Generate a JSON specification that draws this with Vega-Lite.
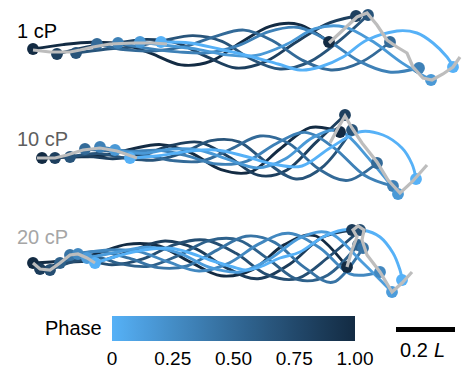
{
  "$schema": "https://vega.github.io/schema/vega-lite/v6.json",
  "width": 462,
  "height": 370,
  "padding": 0,
  "autosize": {"type": "none"},
  "config": {"view": {"stroke": null}, "font": "Liberation Sans"},
  "datasets": {
    "curves": [
      {"c":"a6","ph":1,"x":33,"y":49},{"c":"a6","ph":1,"x":63,"y":44.6},{"c":"a6","ph":1,"x":92,"y":42.2},{"c":"a6","ph":1,"x":122,"y":44.1},{"c":"a6","ph":1,"x":151,"y":53.3},{"c":"a6","ph":1,"x":181,"y":64.9},{"c":"a6","ph":1,"x":211,"y":61.2},{"c":"a6","ph":1,"x":240,"y":43},{"c":"a6","ph":1,"x":270,"y":26.4},{"c":"a6","ph":1,"x":299,"y":24.6},{"c":"a6","ph":1,"x":329,"y":42},
      {"c":"a5","ph":0.8333,"x":57,"y":54},{"c":"a5","ph":0.8333,"x":87,"y":47},{"c":"a5","ph":0.8333,"x":117,"y":42.9},{"c":"a5","ph":0.8333,"x":147,"y":39.4},{"c":"a5","ph":0.8333,"x":177,"y":43},{"c":"a5","ph":0.8333,"x":207,"y":56.9},{"c":"a5","ph":0.8333,"x":236,"y":68},{"c":"a5","ph":0.8333,"x":266,"y":61.4},{"c":"a5","ph":0.8333,"x":296,"y":42.2},{"c":"a5","ph":0.8333,"x":326,"y":24.3},{"c":"a5","ph":0.8333,"x":356,"y":16},
      {"c":"a4","ph":0.6667,"x":76,"y":53},{"c":"a4","ph":0.6667,"x":105,"y":49.3},{"c":"a4","ph":0.6667,"x":134,"y":46.7},{"c":"a4","ph":0.6667,"x":164,"y":40.4},{"c":"a4","ph":0.6667,"x":193,"y":35.6},{"c":"a4","ph":0.6667,"x":222,"y":41.4},{"c":"a4","ph":0.6667,"x":251,"y":59},{"c":"a4","ph":0.6667,"x":280,"y":69},{"c":"a4","ph":0.6667,"x":310,"y":61.6},{"c":"a4","ph":0.6667,"x":339,"y":41.1},{"c":"a4","ph":0.6667,"x":368,"y":15},
      {"c":"a3","ph":0.5,"x":97,"y":44},{"c":"a3","ph":0.5,"x":126,"y":49.9},{"c":"a3","ph":0.5,"x":156,"y":50.7},{"c":"a3","ph":0.5,"x":185,"y":46.4},{"c":"a3","ph":0.5,"x":214,"y":36.9},{"c":"a3","ph":0.5,"x":244,"y":30.1},{"c":"a3","ph":0.5,"x":273,"y":41},{"c":"a3","ph":0.5,"x":302,"y":60},{"c":"a3","ph":0.5,"x":331,"y":70},{"c":"a3","ph":0.5,"x":361,"y":62.3},{"c":"a3","ph":0.5,"x":390,"y":42},
      {"c":"a2","ph":0.3333,"x":118,"y":43},{"c":"a2","ph":0.3333,"x":148,"y":48.4},{"c":"a2","ph":0.3333,"x":178,"y":51.9},{"c":"a2","ph":0.3333,"x":208,"y":52.8},{"c":"a2","ph":0.3333,"x":238,"y":45.7},{"c":"a2","ph":0.3333,"x":269,"y":31.6},{"c":"a2","ph":0.3333,"x":299,"y":27.5},{"c":"a2","ph":0.3333,"x":329,"y":41.3},{"c":"a2","ph":0.3333,"x":359,"y":61.1},{"c":"a2","ph":0.3333,"x":389,"y":72},{"c":"a2","ph":0.3333,"x":419,"y":68},
      {"c":"a1","ph":0.1667,"x":140,"y":42},{"c":"a1","ph":0.1667,"x":169,"y":45.8},{"c":"a1","ph":0.1667,"x":198,"y":49.4},{"c":"a1","ph":0.1667,"x":227,"y":54.9},{"c":"a1","ph":0.1667,"x":256,"y":55.5},{"c":"a1","ph":0.1667,"x":286,"y":44.6},{"c":"a1","ph":0.1667,"x":315,"y":28.7},{"c":"a1","ph":0.1667,"x":344,"y":26.8},{"c":"a1","ph":0.1667,"x":373,"y":41.6},{"c":"a1","ph":0.1667,"x":402,"y":62.9},{"c":"a1","ph":0.1667,"x":431,"y":80},
      {"c":"a0","ph":0,"x":161,"y":42},{"c":"a0","ph":0,"x":190,"y":43},{"c":"a0","ph":0,"x":219,"y":49},{"c":"a0","ph":0,"x":249,"y":56},{"c":"a0","ph":0,"x":278,"y":64},{"c":"a0","ph":0,"x":300,"y":70},{"c":"a0","ph":0,"x":320,"y":67},{"c":"a0","ph":0,"x":343,"y":57},{"c":"a0","ph":0,"x":367,"y":40},{"c":"a0","ph":0,"x":397,"y":31},{"c":"a0","ph":0,"x":417,"y":33},{"c":"a0","ph":0,"x":433,"y":43},{"c":"a0","ph":0,"x":447,"y":57},{"c":"a0","ph":0,"x":453,"y":67},
      {"c":"b6","ph":1,"x":42,"y":158},{"c":"b6","ph":1,"x":72,"y":157},{"c":"b6","ph":1,"x":102,"y":155.8},{"c":"b6","ph":1,"x":131,"y":149.1},{"c":"b6","ph":1,"x":161,"y":144.6},{"c":"b6","ph":1,"x":191,"y":152.8},{"c":"b6","ph":1,"x":221,"y":169.7},{"c":"b6","ph":1,"x":251,"y":171.8},{"c":"b6","ph":1,"x":280,"y":149},{"c":"b6","ph":1,"x":310,"y":127.7},{"c":"b6","ph":1,"x":340,"y":132},
      {"c":"b5","ph":0.8333,"x":55,"y":158},{"c":"b5","ph":0.8333,"x":84,"y":156},{"c":"b5","ph":0.8333,"x":113,"y":158.8},{"c":"b5","ph":0.8333,"x":142,"y":154.9},{"c":"b5","ph":0.8333,"x":171,"y":145.5},{"c":"b5","ph":0.8333,"x":200,"y":142.4},{"c":"b5","ph":0.8333,"x":229,"y":156.9},{"c":"b5","ph":0.8333,"x":258,"y":175.2},{"c":"b5","ph":0.8333,"x":287,"y":170},{"c":"b5","ph":0.8333,"x":316,"y":142.4},{"c":"b5","ph":0.8333,"x":345,"y":115},
      {"c":"b4","ph":0.6667,"x":70,"y":157},{"c":"b4","ph":0.6667,"x":98,"y":153.5},{"c":"b4","ph":0.6667,"x":126,"y":158.1},{"c":"b4","ph":0.6667,"x":155,"y":160},{"c":"b4","ph":0.6667,"x":183,"y":152.8},{"c":"b4","ph":0.6667,"x":211,"y":140.7},{"c":"b4","ph":0.6667,"x":239,"y":141.9},{"c":"b4","ph":0.6667,"x":267,"y":162.6},{"c":"b4","ph":0.6667,"x":296,"y":179},{"c":"b4","ph":0.6667,"x":324,"y":165.8},{"c":"b4","ph":0.6667,"x":352,"y":130},
      {"c":"b3","ph":0.5,"x":85,"y":149},{"c":"b3","ph":0.5,"x":114,"y":151.4},{"c":"b3","ph":0.5,"x":143,"y":154.4},{"c":"b3","ph":0.5,"x":173,"y":160.6},{"c":"b3","ph":0.5,"x":202,"y":161},{"c":"b3","ph":0.5,"x":231,"y":149},{"c":"b3","ph":0.5,"x":260,"y":136},{"c":"b3","ph":0.5,"x":289,"y":143.6},{"c":"b3","ph":0.5,"x":319,"y":169.1},{"c":"b3","ph":0.5,"x":348,"y":180.4},{"c":"b3","ph":0.5,"x":377,"y":163},
      {"c":"b2","ph":0.3333,"x":100,"y":147},{"c":"b2","ph":0.3333,"x":129,"y":151.2},{"c":"b2","ph":0.3333,"x":159,"y":150.3},{"c":"b2","ph":0.3333,"x":188,"y":156.2},{"c":"b2","ph":0.3333,"x":217,"y":164},{"c":"b2","ph":0.3333,"x":247,"y":161.1},{"c":"b2","ph":0.3333,"x":276,"y":143.7},{"c":"b2","ph":0.3333,"x":305,"y":132.4},{"c":"b2","ph":0.3333,"x":334,"y":147.9},{"c":"b2","ph":0.3333,"x":364,"y":175},{"c":"b2","ph":0.3333,"x":393,"y":186},
      {"c":"b1","ph":0.1667,"x":115,"y":150},{"c":"b1","ph":0.1667,"x":143,"y":153.2},{"c":"b1","ph":0.1667,"x":172,"y":149},{"c":"b1","ph":0.1667,"x":200,"y":150.2},{"c":"b1","ph":0.1667,"x":228,"y":159.4},{"c":"b1","ph":0.1667,"x":257,"y":167.9},{"c":"b1","ph":0.1667,"x":285,"y":159.1},{"c":"b1","ph":0.1667,"x":313,"y":137.4},{"c":"b1","ph":0.1667,"x":341,"y":131.2},{"c":"b1","ph":0.1667,"x":370,"y":160},{"c":"b1","ph":0.1667,"x":398,"y":194},
      {"c":"b0","ph":0,"x":130,"y":158},{"c":"b0","ph":0,"x":159,"y":155.7},{"c":"b0","ph":0,"x":187,"y":151.5},{"c":"b0","ph":0,"x":216,"y":150},{"c":"b0","ph":0,"x":244,"y":156},{"c":"b0","ph":0,"x":273,"y":164},{"c":"b0","ph":0,"x":302,"y":166},{"c":"b0","ph":0,"x":330,"y":148},{"c":"b0","ph":0,"x":359,"y":132},{"c":"b0","ph":0,"x":383,"y":135},{"c":"b0","ph":0,"x":402,"y":148},{"c":"b0","ph":0,"x":412,"y":164},{"c":"b0","ph":0,"x":416,"y":179},
      {"c":"c7","ph":1,"x":33,"y":263},{"c":"c7","ph":1,"x":64,"y":260.5},{"c":"c7","ph":1,"x":96,"y":253.8},{"c":"c7","ph":1,"x":127,"y":244.4},{"c":"c7","ph":1,"x":159,"y":246},{"c":"c7","ph":1,"x":190,"y":261.9},{"c":"c7","ph":1,"x":221,"y":275.8},{"c":"c7","ph":1,"x":253,"y":269.4},{"c":"c7","ph":1,"x":284,"y":244.9},{"c":"c7","ph":1,"x":316,"y":236},{"c":"c7","ph":1,"x":347,"y":267},
      {"c":"c6","ph":0.8571,"x":40,"y":269},{"c":"c6","ph":0.8571,"x":71,"y":262},{"c":"c6","ph":0.8571,"x":102,"y":260.6},{"c":"c6","ph":0.8571,"x":134,"y":249.8},{"c":"c6","ph":0.8571,"x":165,"y":241},{"c":"c6","ph":0.8571,"x":196,"y":248.9},{"c":"c6","ph":0.8571,"x":227,"y":268.1},{"c":"c6","ph":0.8571,"x":258,"y":278.7},{"c":"c6","ph":0.8571,"x":290,"y":264},{"c":"c6","ph":0.8571,"x":321,"y":238.1},{"c":"c6","ph":0.8571,"x":352,"y":230},
      {"c":"c5","ph":0.7143,"x":50,"y":270},{"c":"c5","ph":0.7143,"x":81,"y":260},{"c":"c5","ph":0.7143,"x":112,"y":264.7},{"c":"c5","ph":0.7143,"x":143,"y":258.9},{"c":"c5","ph":0.7143,"x":174,"y":244.8},{"c":"c5","ph":0.7143,"x":205,"y":240},{"c":"c5","ph":0.7143,"x":236,"y":253.3},{"c":"c5","ph":0.7143,"x":267,"y":274.7},{"c":"c5","ph":0.7143,"x":298,"y":278.4},{"c":"c5","ph":0.7143,"x":329,"y":256.7},{"c":"c5","ph":0.7143,"x":360,"y":230},
      {"c":"c4","ph":0.5714,"x":60,"y":263},{"c":"c4","ph":0.5714,"x":90,"y":255.7},{"c":"c4","ph":0.5714,"x":120,"y":263.7},{"c":"c4","ph":0.5714,"x":149,"y":266.3},{"c":"c4","ph":0.5714,"x":179,"y":255.2},{"c":"c4","ph":0.5714,"x":209,"y":240.6},{"c":"c4","ph":0.5714,"x":239,"y":240.1},{"c":"c4","ph":0.5714,"x":269,"y":259.7},{"c":"c4","ph":0.5714,"x":298,"y":279.7},{"c":"c4","ph":0.5714,"x":328,"y":274.9},{"c":"c4","ph":0.5714,"x":358,"y":245},
      {"c":"c3","ph":0.4286,"x":70,"y":255},{"c":"c3","ph":0.4286,"x":99,"y":251.5},{"c":"c3","ph":0.4286,"x":129,"y":258.2},{"c":"c3","ph":0.4286,"x":158,"y":267.6},{"c":"c3","ph":0.4286,"x":187,"y":266},{"c":"c3","ph":0.4286,"x":217,"y":250.1},{"c":"c3","ph":0.4286,"x":246,"y":236.2},{"c":"c3","ph":0.4286,"x":275,"y":242.6},{"c":"c3","ph":0.4286,"x":304,"y":267.1},{"c":"c3","ph":0.4286,"x":334,"y":281.9},{"c":"c3","ph":0.4286,"x":363,"y":248},
      {"c":"c2","ph":0.2857,"x":78,"y":254},{"c":"c2","ph":0.2857,"x":108,"y":250},{"c":"c2","ph":0.2857,"x":138,"y":251.4},{"c":"c2","ph":0.2857,"x":169,"y":262.2},{"c":"c2","ph":0.2857,"x":199,"y":271},{"c":"c2","ph":0.2857,"x":229,"y":263.1},{"c":"c2","ph":0.2857,"x":259,"y":243.9},{"c":"c2","ph":0.2857,"x":289,"y":233.3},{"c":"c2","ph":0.2857,"x":320,"y":248},{"c":"c2","ph":0.2857,"x":350,"y":273.9},{"c":"c2","ph":0.2857,"x":380,"y":272},
      {"c":"c1","ph":0.1429,"x":87,"y":258},{"c":"c1","ph":0.1429,"x":118,"y":252},{"c":"c1","ph":0.1429,"x":148,"y":247.3},{"c":"c1","ph":0.1429,"x":179,"y":253.1},{"c":"c1","ph":0.1429,"x":209,"y":267.2},{"c":"c1","ph":0.1429,"x":240,"y":272},{"c":"c1","ph":0.1429,"x":270,"y":258.7},{"c":"c1","ph":0.1429,"x":301,"y":237.3},{"c":"c1","ph":0.1429,"x":331,"y":233.6},{"c":"c1","ph":0.1429,"x":362,"y":262},{"c":"c1","ph":0.1429,"x":392,"y":292},
      {"c":"c0","ph":0,"x":95,"y":263},{"c":"c0","ph":0,"x":133,"y":252},{"c":"c0","ph":0,"x":167,"y":248},{"c":"c0","ph":0,"x":187,"y":252},{"c":"c0","ph":0,"x":210,"y":260},{"c":"c0","ph":0,"x":233,"y":267},{"c":"c0","ph":0,"x":247,"y":270},{"c":"c0","ph":0,"x":260,"y":267},{"c":"c0","ph":0,"x":280,"y":258},{"c":"c0","ph":0,"x":300,"y":252},{"c":"c0","ph":0,"x":323,"y":237},{"c":"c0","ph":0,"x":343,"y":230},{"c":"c0","ph":0,"x":363,"y":230},{"c":"c0","ph":0,"x":380,"y":237},{"c":"c0","ph":0,"x":393,"y":253},{"c":"c0","ph":0,"x":400,"y":270},{"c":"c0","ph":0,"x":402,"y":280}
    ],
    "dots": [
      {"ph":1,"x":33,"y":49},{"ph":0.8333,"x":57,"y":54},{"ph":0.6667,"x":76,"y":53},{"ph":0.5,"x":97,"y":44},{"ph":0.3333,"x":118,"y":43},{"ph":0.1667,"x":140,"y":42},{"ph":0,"x":161,"y":42},
      {"ph":1,"x":329,"y":42},{"ph":0.8333,"x":356,"y":16},{"ph":0.6667,"x":368,"y":15},{"ph":0.5,"x":390,"y":42},{"ph":0.3333,"x":419,"y":68},{"ph":0.1667,"x":431,"y":80},{"ph":0,"x":453,"y":67},
      {"ph":1,"x":42,"y":158},{"ph":0.8333,"x":55,"y":158},{"ph":0.6667,"x":70,"y":157},{"ph":0.5,"x":85,"y":149},{"ph":0.3333,"x":100,"y":147},{"ph":0.1667,"x":115,"y":150},{"ph":0,"x":130,"y":158},
      {"ph":1,"x":340,"y":132},{"ph":0.8333,"x":345,"y":115},{"ph":0.6667,"x":352,"y":130},{"ph":0.5,"x":377,"y":163},{"ph":0.3333,"x":393,"y":186},{"ph":0.1667,"x":398,"y":194},{"ph":0,"x":416,"y":179},
      {"ph":1,"x":33,"y":263},{"ph":0.8571,"x":40,"y":269},{"ph":0.7143,"x":50,"y":270},{"ph":0.5714,"x":60,"y":263},{"ph":0.4286,"x":70,"y":255},{"ph":0.2857,"x":78,"y":254},{"ph":0.1429,"x":87,"y":258},{"ph":0,"x":95,"y":263},
      {"ph":1,"x":347,"y":267},{"ph":0.8571,"x":352,"y":230},{"ph":0.7143,"x":360,"y":230},{"ph":0.5714,"x":358,"y":245},{"ph":0.4286,"x":363,"y":248},{"ph":0.2857,"x":380,"y":272},{"ph":0.1429,"x":392,"y":292},{"ph":0,"x":402,"y":280}
    ],
    "traj": [
      {"t":"1L","x":33,"y":50},{"t":"1L","x":50,"y":52},{"t":"1L","x":70,"y":52},{"t":"1L","x":80,"y":50},{"t":"1L","x":93,"y":47},{"t":"1L","x":110,"y":44},{"t":"1L","x":133,"y":43},{"t":"1L","x":153,"y":43},{"t":"1L","x":167,"y":44},
      {"t":"1R","x":329,"y":43},{"t":"1R","x":343,"y":30},{"t":"1R","x":357,"y":17},{"t":"1R","x":367,"y":13},{"t":"1R","x":377,"y":25},{"t":"1R","x":387,"y":40},{"t":"1R","x":397,"y":47},{"t":"1R","x":407,"y":53},{"t":"1R","x":413,"y":67},{"t":"1R","x":423,"y":78},{"t":"1R","x":432,"y":80},{"t":"1R","x":443,"y":74},{"t":"1R","x":453,"y":67},{"t":"1R","x":460,"y":57},
      {"t":"2L","x":37,"y":158},{"t":"2L","x":55,"y":158},{"t":"2L","x":67,"y":155},{"t":"2L","x":83,"y":150},{"t":"2L","x":100,"y":148},{"t":"2L","x":117,"y":151},{"t":"2L","x":137,"y":158},
      {"t":"2R","x":330,"y":143},{"t":"2R","x":338,"y":128},{"t":"2R","x":345,"y":116},{"t":"2R","x":352,"y":128},{"t":"2R","x":362,"y":143},{"t":"2R","x":377,"y":162},{"t":"2R","x":388,"y":180},{"t":"2R","x":400,"y":193},{"t":"2R","x":412,"y":182},{"t":"2R","x":427,"y":165},
      {"t":"3L","x":33,"y":263},{"t":"3L","x":40,"y":269},{"t":"3L","x":50,"y":270},{"t":"3L","x":60,"y":263},{"t":"3L","x":70,"y":255},{"t":"3L","x":78,"y":254},{"t":"3L","x":87,"y":258},{"t":"3L","x":95,"y":263},
      {"t":"3R","x":347,"y":267},{"t":"3R","x":352,"y":250},{"t":"3R","x":357,"y":237},{"t":"3R","x":353,"y":230},{"t":"3R","x":358,"y":226},{"t":"3R","x":364,"y":230},{"t":"3R","x":362,"y":240},{"t":"3R","x":367,"y":255},{"t":"3R","x":380,"y":272},{"t":"3R","x":392,"y":292},{"t":"3R","x":402,"y":283},{"t":"3R","x":412,"y":272}
    ]
  },
  "encoding": {
    "x": {"field": "x", "type": "quantitative", "scale": {"domain": [0, 462], "nice": false, "zero": false}, "axis": null},
    "y": {"field": "y", "type": "quantitative", "scale": {"domain": [0, 370], "reverse": true, "nice": false, "zero": false}, "axis": null}
  },
  "layer": [
    {
      "data": {"name": "curves"},
      "mark": {"type": "line", "interpolate": "cardinal", "strokeWidth": 2.9},
      "encoding": {
        "detail": {"field": "c", "type": "nominal"},
        "order": {"value": null},
        "stroke": {
          "field": "ph", "type": "quantitative",
          "scale": {"domain": [0, 1], "range": ["#56B1F7", "#132B43"], "interpolate": "lab"},
          "legend": {
            "type": "gradient",
            "title": "Phase", "orient": "none", "legendX": 45, "legendY": 316, "direction": "horizontal",
            "gradientLength": 243, "gradientThickness": 25, "gradientStrokeWidth": 0,
            "titleOrient": "left", "titleFontSize": 20, "titleFontWeight": "normal", "titleColor": "black", "titleFont": "Liberation Sans", "titlePadding": 10,
            "labelFontSize": 19, "labelFont": "Liberation Sans", "labelColor": "black", "labelOffset": 9, "labelAlign": "center",
            "values": [0, 0.25, 0.5, 0.75, 1], "labelOverlap": false,
            "labelExpr": "datum.value == 0 ? '0' : format(datum.value, '.2f')",
            "encode": {"labels": {"update": {"align": {"value": "center"}}}}
          }
        }
      }
    },
    {
      "data": {"name": "dots"},
      "mark": {"type": "circle", "size": 140, "opacity": 1},
      "encoding": {
        "fill": {"field": "ph", "type": "quantitative", "scale": {"range": ["#56B1F7", "#132B43"], "interpolate": "lab", "zero": false, "nice": false}, "legend": null}
      }
    },
    {
      "data": {"name": "traj"},
      "mark": {"type": "line", "strokeWidth": 3.2, "color": "#BDBDBD"},
      "encoding": {
        "detail": {"field": "t", "type": "nominal"},
        "order": {"value": null}
      }
    },
    {
      "data": {"values": [{"lab": "1 cP", "x": 17, "y": 37.5}]},
      "mark": {"type": "text", "align": "left", "baseline": "alphabetic", "fontSize": 20, "color": "black"},
      "encoding": {"text": {"field": "lab"}}
    },
    {
      "data": {"values": [{"lab": "10 cP", "x": 17, "y": 145.5}]},
      "mark": {"type": "text", "align": "left", "baseline": "alphabetic", "fontSize": 20, "color": "#5E5E5E"},
      "encoding": {"text": {"field": "lab"}}
    },
    {
      "data": {"values": [{"lab": "20 cP", "x": 17, "y": 244}]},
      "mark": {"type": "text", "align": "left", "baseline": "alphabetic", "fontSize": 20, "color": "#A6A6A6"},
      "encoding": {"text": {"field": "lab"}}
    },
    {
      "data": {"values": [{"x": 396, "x2": 455, "y": 329.5}]},
      "mark": {"type": "rule", "strokeWidth": 5, "color": "black"},
      "encoding": {"x2": {"field": "x2"}}
    },
    {
      "data": {"values": [{"lab": "0.2", "x": 400, "y": 357}]},
      "mark": {"type": "text", "align": "left", "baseline": "alphabetic", "fontSize": 20, "color": "black"},
      "encoding": {"text": {"field": "lab"}}
    },
    {
      "data": {"values": [{"lab": "L", "x": 434, "y": 357}]},
      "mark": {"type": "text", "align": "left", "baseline": "alphabetic", "fontSize": 20, "fontStyle": "italic", "color": "black"},
      "encoding": {"text": {"field": "lab"}}
    }
  ]
}
